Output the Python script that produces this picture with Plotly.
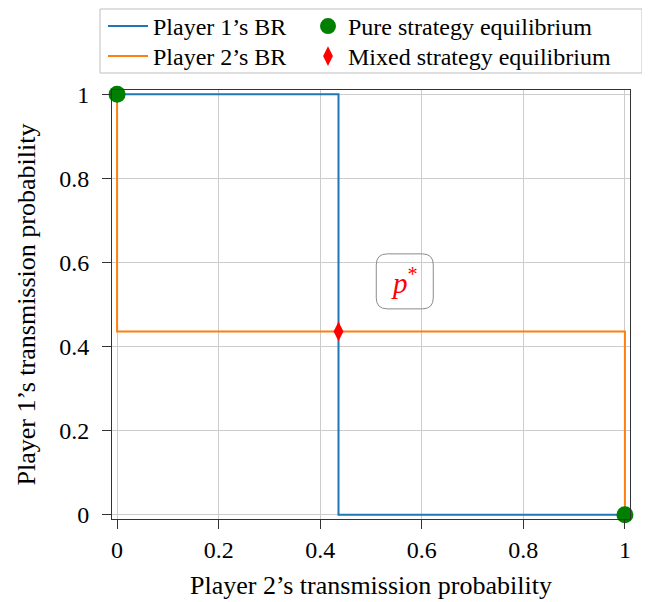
import plotly.graph_objects as go

# ---- data ----
p_star = 0.436
br1_x = [0, p_star, p_star, 1]
br1_y = [1, 1, 0, 0]
br2_x = [0, 0, 1, 1]
br2_y = [1, p_star, p_star, 0]
pure_x = [0, 1]
pure_y = [1, 0]
mixed_x = [p_star]
mixed_y = [p_star]
tick_vals = [0, 0.2, 0.4, 0.6, 0.8, 1]
tick_text = ["0", "0.2", "0.4", "0.6", "0.8", "1"]

FONT = "Liberation Serif"

fig = go.Figure()
fig.add_trace(go.Scatter(x=br1_x, y=br1_y, mode="lines", name="Player 1’s BR", legend="legend",
                         showlegend=True, line=dict(color="#1f77b4", width=2)))
fig.add_trace(go.Scatter(x=br2_x, y=br2_y, mode="lines", name="Player 2’s BR", legend="legend3",
                         showlegend=True, line=dict(color="#ff7f0e", width=2)))
fig.add_trace(go.Scatter(x=pure_x, y=pure_y, mode="markers", name="Pure strategy equilibrium",
                         legend="legend2", showlegend=True,
                         marker=dict(color="#008000", size=17, symbol="circle"), cliponaxis=False))
fig.add_trace(go.Scatter(x=mixed_x, y=mixed_y, mode="markers", name="Mixed strategy equilibrium",
                         legend="legend4", showlegend=True,
                         marker=dict(color="#ff0000", size=14, symbol="diamond-tall"), cliponaxis=False))

# geometry (page adds an 8px body margin, so figure is 8px smaller)
W, H = 642, 594
ml, mr, mt, mb = 104, 20, 82, 83
xr = [-0.01, 1.01]
yr = [-0.01, 1.01]
pw, ph = W - ml - mr, H - mt - mb
pxx = pw / (xr[1] - xr[0])
pxy = ph / (yr[1] - yr[0])

# rounded box around p* label
cx, cy = 0.5665, 0.555
hw, hh = 28.5 / pxx, 27.5 / pxy
rx, ry = 11 / pxx, 11 / pxy
x0, x1, y0, y1 = cx - hw, cx + hw, cy - hh, cy + hh
path = (f"M {x0+rx},{y0} L {x1-rx},{y0} Q {x1},{y0} {x1},{y0+ry} "
        f"L {x1},{y1-ry} Q {x1},{y1} {x1-rx},{y1} L {x0+rx},{y1} "
        f"Q {x0},{y1} {x0},{y1-ry} L {x0},{y0+ry} Q {x0},{y0} {x0+rx},{y0} Z")
fig.add_shape(type="path", path=path, xref="x", yref="y",
              line=dict(color="#8c8c8c", width=1), fillcolor="rgba(255,255,255,0)")
fig.add_annotation(x=cx, y=cy, text="<i>p</i><sup>*</sup>", showarrow=False,
                   font=dict(family=FONT, size=29, color="#ff0000"))


def px_to_paper_x(px):
    return (px - ml) / pw


def px_to_paper_y(py):
    return (H - mb - py) / ph


# legend frame
fig.add_shape(type="rect", xref="paper", yref="paper",
              x0=px_to_paper_x(92), x1=px_to_paper_x(634),
              y0=px_to_paper_y(65), y1=px_to_paper_y(1),
              line=dict(color="#bfbfbf", width=1), fillcolor="rgba(0,0,0,0)")

axis_common = dict(
    tickvals=tick_vals, ticktext=tick_text, showgrid=True, gridcolor="#cccccc", gridwidth=1,
    showline=True, linecolor="#333333", linewidth=1, mirror=True,
    ticks="outside", ticklen=9, tickcolor="#333333", zeroline=False, automargin=False,
    tickfont=dict(family=FONT, size=24, color="#000000"),
)
fig.update_xaxes(range=xr, title=dict(text="Player 2’s transmission probability",
                 font=dict(family=FONT, size=26, color="#000000"), standoff=14), **axis_common)
fig.update_yaxes(range=yr, title=dict(text="Player 1’s transmission probability",
                 font=dict(family=FONT, size=26, color="#000000"), standoff=16),
                 ticklabelstandoff=8, **axis_common)

leg_common = dict(orientation="v", xanchor="left", yanchor="top",
                  bgcolor="rgba(0,0,0,0)", borderwidth=0,
                  font=dict(family=FONT, size=24, color="#000000"), tracegroupgap=0)
row1_top, row2_top = -4, 26
fig.update_layout(
    width=W, height=H, margin=dict(l=ml, r=mr, t=mt, b=mb, autoexpand=False),
    plot_bgcolor="white", paper_bgcolor="white", showlegend=True,
    font=dict(family=FONT, color="#000000"),
    legend=dict(x=px_to_paper_x(95), y=px_to_paper_y(row1_top), itemwidth=40, **leg_common),
    legend2=dict(x=px_to_paper_x(300), y=px_to_paper_y(row1_top), itemwidth=30, **leg_common),
    legend3=dict(x=px_to_paper_x(95), y=px_to_paper_y(row2_top), itemwidth=40, **leg_common),
    legend4=dict(x=px_to_paper_x(300), y=px_to_paper_y(row2_top), itemwidth=30, **leg_common),
)
fig.write_html("out.html")
